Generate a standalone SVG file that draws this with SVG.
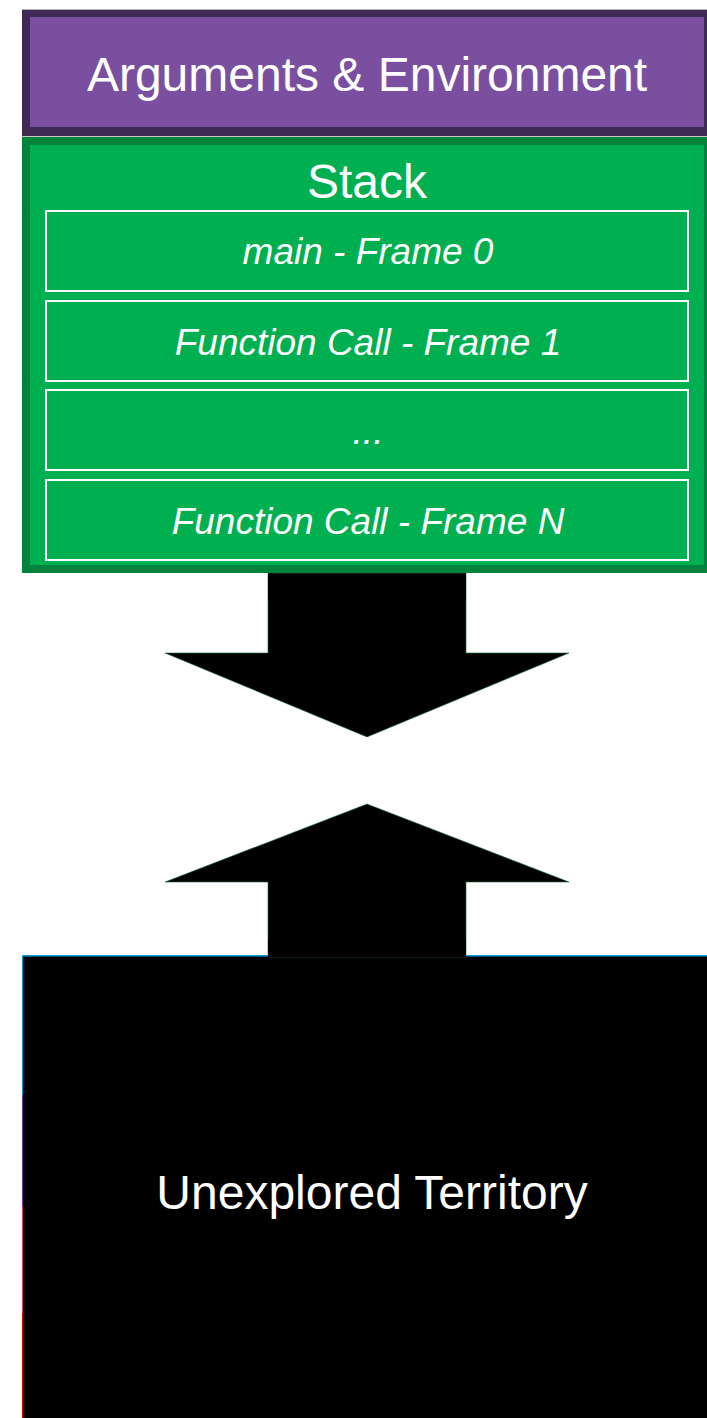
<svg xmlns="http://www.w3.org/2000/svg" width="707" height="1418" viewBox="0 0 707 1418">
<style>
.t{font-family:"Liberation Sans",Arial,sans-serif;fill:#fff;text-anchor:middle;font-size:48px}
.i{font-style:italic;font-size:37px}
.fr{fill:none;stroke:#fff;stroke-width:2}
.arrow{fill:#000;stroke:#1a6b3c;stroke-width:0.6}
</style>
<rect width="707" height="1418" fill="#fff"/>
<g id="args">
<rect x="22" y="9" width="685" height="127" fill="#3f2a56"/>
<rect x="30" y="17" width="674" height="110" fill="#7b4fa0"/>
<line x1="22" y1="9.5" x2="707" y2="9.5" stroke="#b0b0b0" stroke-width="1"/>
<text class="t" x="367" y="91">Arguments &amp; Environment</text>
</g>
<line x1="22" y1="136.5" x2="707" y2="136.5" stroke="#c8c8c8" stroke-width="1"/>
<g id="stack">
<rect x="22" y="137" width="685" height="436" fill="#00843d"/>
<rect x="30" y="145" width="674" height="420" fill="#00b050"/>
<text class="t" x="367" y="198">Stack</text>
</g>
<g id="frame0"><rect class="fr" x="46" y="211" width="642" height="80"/><text class="t i" x="368" y="264">main - Frame 0</text></g>
<g id="frame1"><rect class="fr" x="46" y="301" width="642" height="80"/><text class="t i" x="368" y="355">Function Call - Frame 1</text></g>
<g id="frameDots"><rect class="fr" x="46" y="390" width="642" height="80"/><text class="t i" x="368" y="444">...</text></g>
<g id="frameN"><rect class="fr" x="46" y="480" width="642" height="80"/><text class="t i" x="368" y="534">Function Call - Frame N</text></g>
<g id="unexplored">
<rect x="22" y="955" width="685" height="463" fill="#000"/>
<line x1="22" y1="955.8" x2="707" y2="955.8" stroke="#00a0e0" stroke-width="1.6"/>
<line x1="22.5" y1="955" x2="22.5" y2="1095" stroke="#00a0e0" stroke-width="1"/>
<line x1="22.5" y1="1095" x2="22.5" y2="1206" stroke="#7030a0" stroke-width="1"/>
<line x1="22.5" y1="1206" x2="22.5" y2="1313" stroke="#e0307a" stroke-width="1"/>
<line x1="22.5" y1="1313" x2="22.5" y2="1418" stroke="#e00000" stroke-width="1"/>
<text class="t" x="372" y="1209">Unexplored Territory</text>
</g>
<g id="connectors">
<polygon class="arrow" points="268,573 466,573 466,653 569,653 367,737 165,653 268,653"/>
<polygon points="268,574 466,574 466,600 268,600" fill="#000"/>
<polygon class="arrow" points="367,804 569,882 466,882 466,957 268,957 268,882 165,882"/>
<polygon points="268,940 466,940 466,957 268,957" fill="#000"/>
</g>
</svg>
